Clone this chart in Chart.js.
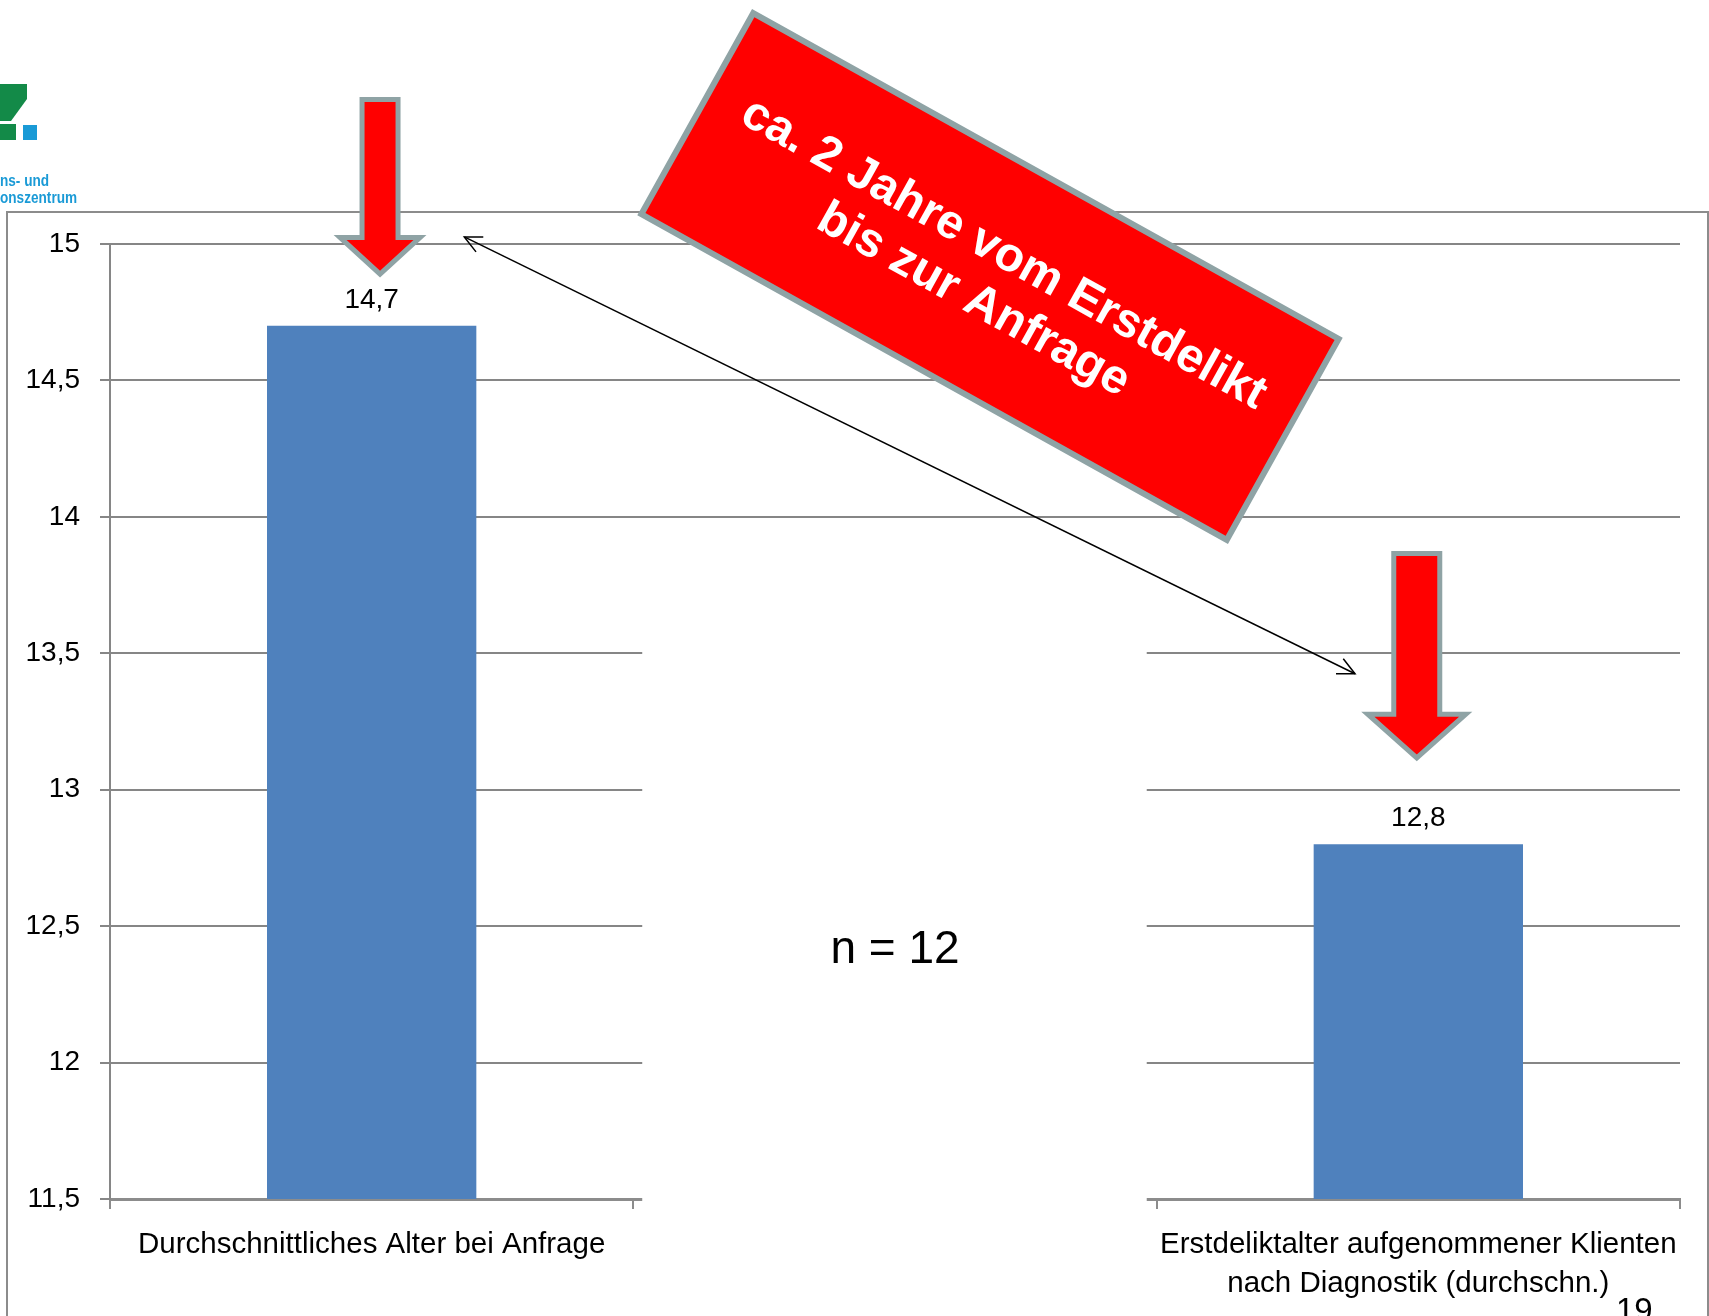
<!DOCTYPE html>
<html>
<head>
<meta charset="utf-8">
<script src="https://cdn.jsdelivr.net/npm/chart.js@4.4.1/dist/chart.umd.min.js"></script>
<style>
    html, body { margin: 0; padding: 0; background: #fff; }
    canvas { display: block; }
</style>
</head>
<body>
<canvas id="ageChart" width="1709" height="1316"></canvas>
<script>
// Kategorien (die mittlere bleibt leer, dort steht "n = 12")
const categories = [
    "Durchschnittliches Alter bei Anfrage",
    "",
    ["Erstdeliktalter aufgenommener Klienten", "nach Diagnostik (durchschn.)"]
];
const ageValues = [14.7, null, 12.8];
const yMin = 11.5;
const yMax = 15;
const yStep = 0.5;
const sampleSize = 12;
const bannerLines = ["ca. 2 Jahre vom Erstdelikt", "bis zur Anfrage"];
const logoLines = ["ns- und", "onszentrum"];
const pageNumber = "19";

const FONT = "'Liberation Sans', Arial, sans-serif";
const fmt = v => String(v).replace(".", ",");

function drawDownArrow(c, cx, top, head, tip, sw, hw) {
    c.beginPath();
    c.moveTo(cx - sw, top);
    c.lineTo(cx + sw, top);
    c.lineTo(cx + sw, head);
    c.lineTo(cx + hw, head);
    c.lineTo(cx, tip);
    c.lineTo(cx - hw, head);
    c.lineTo(cx - sw, head);
    c.closePath();
    c.fillStyle = "#ff0000";
    c.fill();
    c.lineWidth = 5;
    c.lineJoin = "miter";
    c.strokeStyle = "#8fa3a5";
    c.stroke();
}

function drawArrowHead(c, x, y, ang) {
    const len = 19, spread = 0.45;
    c.beginPath();
    c.moveTo(x + len * Math.cos(ang + spread), y + len * Math.sin(ang + spread));
    c.lineTo(x, y);
    c.lineTo(x + len * Math.cos(ang - spread), y + len * Math.sin(ang - spread));
    c.stroke();
}

const decorations = {
    id: "decorations",
    beforeDraw(chart) {
        const c = chart.ctx;
        c.save();
        c.fillStyle = "#fff";
        c.fillRect(0, 0, chart.width, chart.height);

        // Rahmen um das Diagramm
        c.strokeStyle = "#8c8c8c";
        c.lineWidth = 2;
        c.strokeRect(7, 212, 1701, 1200);

        // angeschnittenes Logo oben links
        c.fillStyle = "#138a48";
        c.beginPath();
        c.moveTo(0, 84);
        c.lineTo(27, 84);
        c.lineTo(27, 99);
        c.lineTo(11, 121);
        c.lineTo(0, 121);
        c.closePath();
        c.fill();
        c.fillRect(0, 124, 16, 16);
        c.fillStyle = "#1a9ad6";
        c.fillRect(23, 125, 14, 15);
        c.font = "bold 17px " + FONT;
        c.textAlign = "left";
        c.save();
        c.scale(0.8, 1);
        c.fillText(logoLines[0], 0, 186);
        c.fillText(logoLines[1], 0, 203);
        c.restore();
        c.restore();
    },
    afterDraw(chart) {
        const c = chart.ctx;
        const xs = chart.scales.x;
        const ys = chart.scales.y;
        const area = chart.chartArea;
        c.save();

        // weißes Feld über der leeren Mittelkategorie
        const boxL = xs.getPixelForValue(0.517);
        const boxR = xs.getPixelForValue(1.481);
        const boxT = ys.getPixelForValue(13.7);
        c.fillStyle = "#fff";
        c.fillRect(boxL, boxT, boxR - boxL, area.bottom + 8 - boxT);

        c.fillStyle = "#000";
        c.textAlign = "center";
        c.textBaseline = "alphabetic";
        c.font = "46px " + FONT;
        c.fillText("n = " + sampleSize, xs.getPixelForValue(1), ys.getPixelForValue(12.366));

        // Werte über den Balken
        c.font = "28px " + FONT;
        chart.getDatasetMeta(0).data.forEach((bar, i) => {
            if (ageValues[i] == null) return;
            c.fillText(fmt(ageValues[i]), bar.x, bar.y - 18);
        });

        // rote Pfeile
        drawDownArrow(c, xs.getPixelForValue(0.016), ys.getPixelForValue(15.53),
            ys.getPixelForValue(15.024), ys.getPixelForValue(14.89), 18, 40);
        drawDownArrow(c, xs.getPixelForValue(1.997), ys.getPixelForValue(13.866),
            ys.getPixelForValue(13.277), ys.getPixelForValue(13.117), 23, 49);

        // dünner Doppelpfeil
        const x1 = xs.getPixelForValue(0.177), y1 = ys.getPixelForValue(15.026);
        const x2 = xs.getPixelForValue(1.879), y2 = ys.getPixelForValue(13.425);
        c.strokeStyle = "#000";
        c.lineWidth = 1.5;
        c.beginPath();
        c.moveTo(x1, y1);
        c.lineTo(x2, y2);
        c.stroke();
        const ang = Math.atan2(y2 - y1, x2 - x1);
        drawArrowHead(c, x1, y1, ang);
        drawArrowHead(c, x2, y2, ang + Math.PI);

        // rotes Schild
        c.save();
        c.translate(990, 276.5);
        c.rotate(29.1 * Math.PI / 180);
        c.fillStyle = "#ff0000";
        c.fillRect(-335, -115, 670, 230);
        c.lineWidth = 6;
        c.strokeStyle = "#8fa3a5";
        c.strokeRect(-335, -115, 670, 230);
        c.fillStyle = "#fff";
        c.font = "bold 48px " + FONT;
        c.textAlign = "center";
        c.textBaseline = "middle";
        c.fillText(bannerLines[0], 1, -26);
        c.fillText(bannerLines[1], -3, 29);
        c.restore();

        // Seitenzahl
        c.fillStyle = "#000";
        c.font = "33px " + FONT;
        c.textAlign = "left";
        c.textBaseline = "alphabetic";
        c.fillText(pageNumber, 1616, 1321);
        c.restore();
    }
};

new Chart(document.getElementById("ageChart"), {
    type: "bar",
    data: {
        labels: categories,
        datasets: [{
            data: ageValues,
            backgroundColor: "#4f81bd",
            categoryPercentage: 0.4,
            barPercentage: 1
        }]
    },
    options: {
        responsive: false,
        animation: false,
        layout: { padding: { top: 244, right: 29, left: 0, bottom: 0 } },
        plugins: {
            legend: { display: false },
            tooltip: { enabled: false }
        },
        scales: {
            x: {
                grid: { drawOnChartArea: false, offset: true, tickLength: 10, color: "#8c8c8c", lineWidth: 2 },
                border: { color: "#8c8c8c", width: 3 },
                ticks: {
                    color: "#000",
                    font: { family: FONT, size: 29.5, lineHeight: 1.33 },
                    maxRotation: 0,
                    minRotation: 0,
                    autoSkip: false,
                    padding: 16
                },
                afterFit: s => { s.height = 117; }
            },
            y: {
                min: yMin,
                max: yMax,
                grid: { color: "#868686", lineWidth: 2, tickLength: 10 },
                border: { color: "#868686", width: 2 },
                ticks: {
                    stepSize: yStep,
                    color: "#000",
                    font: { family: FONT, size: 28 },
                    padding: 20,
                    callback: v => fmt(v)
                },
                afterFit: s => { s.width = 110; }
            }
        }
    },
    plugins: [decorations]
});
</script>
</body>
</html>
